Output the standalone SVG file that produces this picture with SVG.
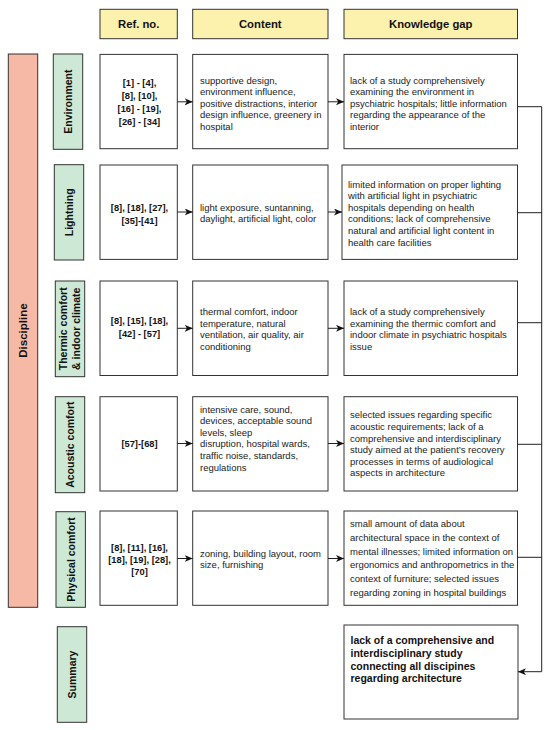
<svg xmlns="http://www.w3.org/2000/svg" width="550" height="730" viewBox="0 0 550 730">
<defs>
<style>
.box{fill:#ffffff;stroke:#333333;stroke-width:1}
.hdr{fill:#fdf2ad;stroke:#333333;stroke-width:1}
.grn{fill:#cde8d4;stroke:#333333;stroke-width:1}
.sal{fill:#f5b9a5;stroke:#333333;stroke-width:1}
.ht{font-family:"Liberation Sans",Arial,sans-serif;font-size:11.3px;font-weight:bold;fill:#111;text-anchor:middle}
.lab{font-family:"Liberation Sans",Arial,sans-serif;font-size:10.5px;font-weight:bold;fill:#111;text-anchor:middle}
.ref{font-family:"Liberation Sans",Arial,sans-serif;font-size:9.3px;font-weight:bold;fill:#111;text-anchor:middle}
.txt{font-family:"Liberation Sans",Arial,sans-serif;font-size:9.5px;fill:#222}
.sum{font-family:"Liberation Sans",Arial,sans-serif;font-size:10.5px;font-weight:bold;fill:#111}
.ln{fill:none;stroke:#222222;stroke-width:1}
</style>
<marker id="arr" markerUnits="userSpaceOnUse" markerWidth="9" markerHeight="8" refX="8" refY="3.5" orient="auto">
<path d="M0,0 L8,3.5 L0,7 L2.2,3.5 Z" fill="#111"/>
</marker>
</defs>

<g id="headers">
<rect class="hdr" x="100" y="9.3" width="77.3" height="29.4"/>
<text class="ht" x="138.7" y="27.6">Ref. no.</text>
<rect class="hdr" x="192.7" y="9.3" width="135.3" height="29.4"/>
<text class="ht" x="260.3" y="27.6">Content</text>
<rect class="hdr" x="344" y="9.3" width="173.5" height="29.4"/>
<text class="ht" x="430.8" y="27.6">Knowledge gap</text>
</g>

<g id="discipline">
<rect class="sal" x="8.3" y="54" width="29.4" height="553.3"/>
<text class="lab" style="font-size:11.5px" transform="translate(23,330.6) rotate(-90)" x="0" y="4">Discipline</text>
</g>

<g id="environment">
<rect class="grn" x="53.3" y="54" width="29.4" height="95.3"/>
<text class="lab" transform="translate(68,101.6) rotate(-90)" x="0" y="3.8">Environment</text>
<rect class="box" x="100" y="54.4" width="77.3" height="94.3"/>
<text class="ref" x="139.5" y="86">[1] - [4],</text>
<text class="ref" x="139.5" y="99">[8], [10],</text>
<text class="ref" x="139.5" y="112">[16] - [19],</text>
<text class="ref" x="139.5" y="125">[26] - [34]</text>
<rect class="box" x="192.7" y="54.4" width="135.3" height="94.3"/>
<text class="txt" x="200" y="83.5">supportive design,</text>
<text class="txt" x="200" y="95.1">environment influence,</text>
<text class="txt" x="200" y="106.7">positive distractions, interior</text>
<text class="txt" x="200" y="118.3">design influence, greenery in</text>
<text class="txt" x="200" y="129.9">hospital</text>
<rect class="box" x="344" y="54.4" width="173.5" height="94.3"/>
<text class="txt" x="350" y="83.5">lack of a study comprehensively</text>
<text class="txt" x="350" y="95.1">examining the environment in</text>
<text class="txt" x="350" y="106.7">psychiatric hospitals; little information</text>
<text class="txt" x="350" y="118.3">regarding the appearance of the</text>
<text class="txt" x="350" y="129.9">interior</text>
</g>

<g id="lightning">
<rect class="grn" x="54.3" y="164.7" width="29.4" height="95.3"/>
<text class="lab" transform="translate(69,212.3) rotate(-90)" x="0" y="3.8">Lightning</text>
<rect class="box" x="100" y="165" width="77.3" height="94.4"/>
<text class="ref" x="139.5" y="210.5">[8], [18], [27],</text>
<text class="ref" x="139.5" y="223.5">[35]-[41]</text>
<rect class="box" x="192.7" y="165" width="135.3" height="94.4"/>
<text class="txt" x="200" y="210.5">light exposure, suntanning,</text>
<text class="txt" x="200" y="222">daylight, artificial light, color</text>
<rect class="box" x="342" y="165" width="175.5" height="94.4"/>
<text class="txt" x="348" y="187.6">limited information on proper lighting</text>
<text class="txt" x="348" y="199.2">with artificial light in psychiatric</text>
<text class="txt" x="348" y="210.8">hospitals depending on health</text>
<text class="txt" x="348" y="222.4">conditions; lack of comprehensive</text>
<text class="txt" x="348" y="234">natural and artificial light content in</text>
<text class="txt" x="348" y="245.6">health care facilities</text>
</g>

<g id="thermic">
<rect class="grn" x="55.3" y="281" width="29.4" height="95.7"/>
<text class="lab" transform="translate(70,328.8) rotate(-90)" x="0" y="-2.8">Thermic comfort</text>
<text class="lab" transform="translate(70,328.8) rotate(-90)" x="0" y="10.2">&amp; indoor climate</text>
<rect class="box" x="100" y="281" width="77.3" height="94.5"/>
<text class="ref" x="139.5" y="323.5">[8], [15], [18],</text>
<text class="ref" x="139.5" y="336.5">[42] - [57]</text>
<rect class="box" x="192.7" y="281" width="135.3" height="94.5"/>
<text class="txt" x="200" y="315">thermal comfort, indoor</text>
<text class="txt" x="200" y="326.6">temperature, natural</text>
<text class="txt" x="200" y="338.2">ventilation, air quality, air</text>
<text class="txt" x="200" y="349.8">conditioning</text>
<rect class="box" x="344" y="281" width="173.5" height="94.5"/>
<text class="txt" x="350" y="315">lack of a study comprehensively</text>
<text class="txt" x="350" y="326.6">examining the thermic comfort and</text>
<text class="txt" x="350" y="338.2">indoor climate in psychiatric hospitals</text>
<text class="txt" x="350" y="349.8">issue</text>
</g>

<g id="acoustic">
<rect class="grn" x="55.3" y="396.7" width="29.4" height="96"/>
<text class="lab" transform="translate(70,444.7) rotate(-90)" x="0" y="3.8">Acoustic comfort</text>
<rect class="box" x="100" y="396.7" width="77.3" height="94.3"/>
<text class="ref" x="139.5" y="446.7">[57]-[68]</text>
<rect class="box" x="192.7" y="396.7" width="135.3" height="94.3"/>
<text class="txt" x="200" y="412.6">intensive care, sound,</text>
<text class="txt" x="200" y="424.2">devices, acceptable sound</text>
<text class="txt" x="200" y="435.8">levels, sleep</text>
<text class="txt" x="200" y="447.4">disruption, hospital wards,</text>
<text class="txt" x="200" y="459">traffic noise, standards,</text>
<text class="txt" x="200" y="470.6">regulations</text>
<rect class="box" x="344" y="396.7" width="173.5" height="94.3"/>
<text class="txt" x="350" y="418.3">selected issues regarding specific</text>
<text class="txt" x="350" y="429.9">acoustic requirements; lack of a</text>
<text class="txt" x="350" y="441.5">comprehensive and interdisciplinary</text>
<text class="txt" x="350" y="453.1">study aimed at the patient’s recovery</text>
<text class="txt" x="350" y="464.7">processes in terms of audiological</text>
<text class="txt" x="350" y="476.3">aspects in architecture</text>
</g>

<g id="physical">
<rect class="grn" x="56" y="511.7" width="29.4" height="95.6"/>
<text class="lab" transform="translate(70.7,559.5) rotate(-90)" x="0" y="3.8">Physical comfort</text>
<rect class="box" x="100" y="511" width="77.3" height="94.3"/>
<text class="ref" x="139.5" y="550.6">[8], [11], [16],</text>
<text class="ref" x="139.5" y="562.6">[18], [19], [28],</text>
<text class="ref" x="139.5" y="574.6">[70]</text>
<rect class="box" x="192.7" y="511" width="135.3" height="94.3"/>
<text class="txt" x="200" y="556.6">zoning, building layout, room</text>
<text class="txt" x="200" y="568">size, furnishing</text>
<rect class="box" x="344" y="511" width="173.5" height="94.3"/>
<text class="txt" x="350" y="526.7">small amount of data about</text>
<text class="txt" x="350" y="540.6">architectural space in the context of</text>
<text class="txt" x="350" y="554.5">mental illnesses; limited information on</text>
<text class="txt" x="350" y="568.4">ergonomics and anthropometrics in the</text>
<text class="txt" x="350" y="582.3">context of furniture; selected issues</text>
<text class="txt" x="350" y="596.2">regarding zoning in hospital buildings</text>
</g>

<g id="summary">
<rect class="grn" x="57.3" y="626.7" width="29.4" height="95.6"/>
<text class="lab" transform="translate(72,674.5) rotate(-90)" x="0" y="3.8">Summary</text>
<rect class="box" x="344" y="625" width="174" height="94"/>
<text class="sum" x="350.5" y="644.4">lack of a comprehensive and</text>
<text class="sum" x="350.5" y="657">interdisciplinary study</text>
<text class="sum" x="350.5" y="669.6">connecting all discipines</text>
<text class="sum" x="350.5" y="682.2">regarding architecture</text>
</g>

<g id="connectors">
<line class="ln" x1="177.3" y1="101.8" x2="192.7" y2="101.8" marker-end="url(#arr)"/>
<line class="ln" x1="328" y1="101.8" x2="344" y2="101.8" marker-end="url(#arr)"/>
<line class="ln" x1="177.3" y1="212" x2="192.7" y2="212" marker-end="url(#arr)"/>
<line class="ln" x1="328" y1="212" x2="342" y2="212" marker-end="url(#arr)"/>
<line class="ln" x1="177.3" y1="328.3" x2="192.7" y2="328.3" marker-end="url(#arr)"/>
<line class="ln" x1="328" y1="328.3" x2="344" y2="328.3" marker-end="url(#arr)"/>
<line class="ln" x1="177.3" y1="443.5" x2="192.7" y2="443.5" marker-end="url(#arr)"/>
<line class="ln" x1="328" y1="443.5" x2="344" y2="443.5" marker-end="url(#arr)"/>
<line class="ln" x1="177.3" y1="558.5" x2="192.7" y2="558.5" marker-end="url(#arr)"/>
<line class="ln" x1="328" y1="558.5" x2="344" y2="558.5" marker-end="url(#arr)"/>
<polyline class="ln" points="517.5,106.7 541.7,106.7"/>
<polyline class="ln" points="517.5,212.7 541.7,212.7"/>
<polyline class="ln" points="517.5,322.7 541.7,322.7"/>
<polyline class="ln" points="517.5,444.3 541.7,444.3"/>
<polyline class="ln" points="517.5,557.3 541.7,557.3"/>
<polyline class="ln" points="541.7,106.7 541.7,671.7 518,671.7" marker-end="url(#arr)"/>
</g>
</svg>
